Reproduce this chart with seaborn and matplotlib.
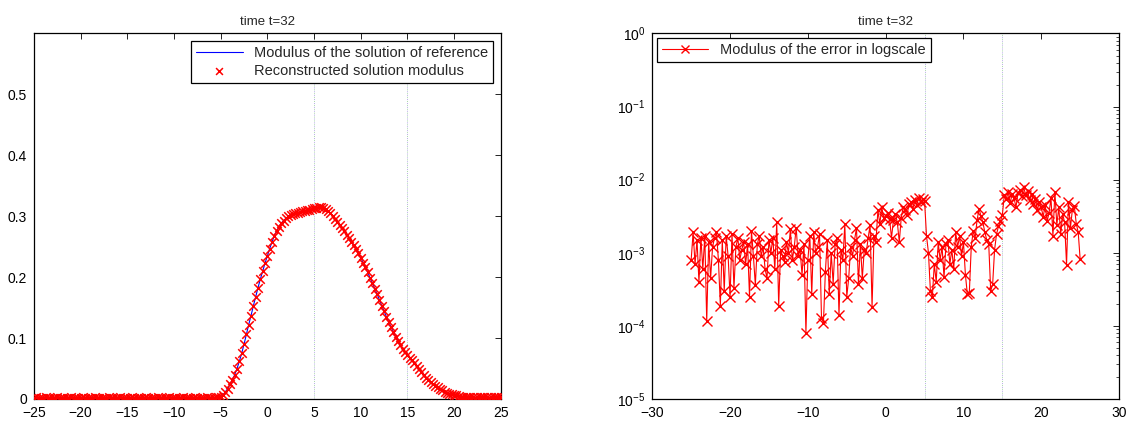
import numpy as np
import pandas as pd
import seaborn as sns
import matplotlib
matplotlib.use("Agg")
import matplotlib.pyplot as plt
from matplotlib.ticker import LogLocator, NullFormatter

# grid used by the solver (step 0.25 on [-25, 25])
x_grid = np.arange(-25, 25.001, 0.25)

# modulus of the solution
sol_mod = [
    0.002, 0.003, 0.002, 0.001, 0.002, 0.003, 0.002, 0.002, 0.001, 0.002,
    0.003, 0.002, 0.002, 0.001, 0.002, 0.002, 0.003, 0.002, 0.001, 0.002,
    0.002, 0.003, 0.002, 0.002, 0.001, 0.002, 0.003, 0.002, 0.002, 0.001,
    0.002, 0.002, 0.003, 0.002, 0.001, 0.002, 0.002, 0.003, 0.002, 0.002,
    0.001, 0.002, 0.003, 0.002, 0.002, 0.001, 0.002, 0.002, 0.003, 0.002,
    0.001, 0.002, 0.002, 0.003, 0.002, 0.002, 0.001, 0.002, 0.003, 0.002,
    0.002, 0.001, 0.002, 0.002, 0.003, 0.002, 0.001, 0.002, 0.002, 0.003,
    0.002, 0.002, 0.001, 0.002, 0.003, 0.002, 0.002, 0.002, 0.003, 0.003,
    0.004, 0.007, 0.012, 0.017, 0.024, 0.031, 0.040, 0.050, 0.062, 0.075,
    0.090, 0.106, 0.122, 0.137, 0.153, 0.168, 0.183, 0.197, 0.210, 0.223,
    0.235, 0.247, 0.258, 0.268, 0.276, 0.283, 0.289, 0.293, 0.297, 0.300,
    0.302, 0.304, 0.305, 0.306, 0.307, 0.308, 0.309, 0.310, 0.311, 0.312,
    0.313, 0.314, 0.315, 0.315, 0.314, 0.312, 0.309, 0.305, 0.301, 0.296,
    0.291, 0.286, 0.281, 0.276, 0.270, 0.264, 0.258, 0.252, 0.246, 0.239,
    0.232, 0.224, 0.216, 0.208, 0.199, 0.190, 0.181, 0.172, 0.163, 0.153,
    0.144, 0.135, 0.126, 0.118, 0.110, 0.102, 0.095, 0.088, 0.082, 0.077,
    0.072, 0.068, 0.064, 0.059, 0.054, 0.049, 0.044, 0.039, 0.035, 0.031,
    0.028, 0.025, 0.022, 0.019, 0.016, 0.014, 0.012, 0.010, 0.009, 0.008,
    0.007, 0.006, 0.005, 0.004, 0.004, 0.003, 0.003, 0.004, 0.003, 0.002,
    0.003, 0.003, 0.004, 0.003, 0.003, 0.002, 0.003, 0.004, 0.003, 0.003,
    0.003,
]

# modulus of the error, in units of 1e-3
err_mod_e3 = [
    0.8, 1.9, 0.7, 1.5, 0.4, 1.6, 0.6, 1.7, 0.115, 1.4,
    0.45, 1.2, 1.6, 1.9, 0.8, 0.19, 1.5, 0.3, 1.7, 0.9,
    0.25,
    1.8, 0.33, 1.2, 1.6, 0.8, 1.1, 1.4, 0.7, 1.3, 0.25,
    2.0, 0.9, 0.36, 1.3, 1.7, 0.9, 1.2, 0.6, 0.45, 1.5,
    1.0, 1.6, 0.6, 2.6, 0.19, 1.1, 0.9, 0.75, 1.4, 1.0,
    2.1, 0.8, 1.2, 2.2, 0.9, 1.1, 0.5, 1.3, 0.08, 0.8,
    1.7, 0.27, 1.9, 1.0, 1.2, 1.8, 0.13, 0.11, 0.55, 1.5,
    0.27, 1.0, 0.38, 1.3, 1.6, 0.14, 1.1, 0.8, 2.5, 0.25,
    0.45, 1.2, 0.9, 1.5, 2.2, 0.38, 1.3, 0.45, 1.1, 1.0,
    1.6, 2.4, 0.18, 1.7, 1.4, 3.8, 2.5, 4.2, 3.0, 3.2,
    3.5, 2.9, 1.6, 2.8, 3.4, 2.6, 1.4, 3.0, 4.2, 3.8,
    3.3, 4.6, 4.9, 4.0, 5.2, 4.5, 5.7, 5.0, 5.4, 5.1,
    1.7, 1.0, 0.3, 0.25, 0.7, 0.4, 1.4, 0.8, 1.2, 0.46,
    1.3, 1.5, 0.7, 1.1, 0.6, 1.9, 1.2, 1.7, 0.9, 1.4,
    0.5, 0.27, 0.28, 1.2, 2.0, 1.6, 2.8, 4.0, 3.2, 2.6,
    1.9, 1.5, 1.3, 0.3, 0.37, 1.1, 1.8, 2.3, 2.7, 3.3,
    6.2, 5.4, 6.8, 4.8, 6.3, 5.6, 4.2, 6.5, 7.2, 5.9,
    7.9, 6.1, 7.0, 5.2, 6.4, 4.6, 5.5, 3.8, 5.0, 4.2,
    3.1, 4.5, 2.7, 3.5, 5.6, 1.7, 6.8, 2.4, 4.2, 1.8,
    3.4, 2.6, 0.69, 5.0, 2.2, 3.9, 4.3, 2.5, 1.9, 0.81,
]

marks_x = [5, 15]
left_xticks = [-25, -20, -15, -10, -5, 0, 5, 10, 15, 20, 25]
left_yticks = [0, 0.1, 0.2, 0.3, 0.4, 0.5]
left_ylabels = ["0", "0.1", "0.2", "0.3", "0.4", "0.5"]
right_xticks = [-30, -20, -10, 0, 10, 20, 30]

df = pd.DataFrame({"x": x_grid, "sol": sol_mod,
                   "err": np.array(err_mod_e3) * 1e-3})

sns.set_theme(style="white")
plt.rcParams["font.family"] = ["Liberation Sans", "DejaVu Sans"]
plt.rcParams["axes.unicode_minus"] = True

fig = plt.figure(figsize=(11.33, 4.24), dpi=100)
ax1 = fig.add_axes([0.0300, 0.059, 0.412, 0.862])
ax2 = fig.add_axes([0.5757, 0.059, 0.412, 0.862])


def matlab_box(ax):
    for s in ax.spines.values():
        s.set_color("black")
        s.set_linewidth(0.9)
    ax.tick_params(which="both", direction="in", top=True, right=True,
                   colors="black", labelsize=10)
    ax.tick_params(axis="x", pad=5)
    ax.tick_params(axis="y", pad=5)
    ax.tick_params(which="major", length=4, width=0.6)
    ax.tick_params(which="minor", length=2, width=0.5)


def faint_marks(ax):
    for xv in marks_x:
        ax.axvline(xv, color="#b8a8e8", lw=0.7, ls=(0, (1, 3)), zorder=0)
        ax.axvline(xv, color="#a8d8a8", lw=0.7, ls=(2, (1, 3)), zorder=0)


# left panel
faint_marks(ax1)
sns.lineplot(data=df, x="x", y="sol", ax=ax1, color="blue", lw=0.8,
             sort=False, estimator=None,
             label="Modulus of the solution of reference")
sns.scatterplot(data=df, x="x", y="sol", ax=ax1, color="red", marker="x",
                s=38, linewidth=1.1, label="Reconstructed solution modulus",
                zorder=3)
ax1.set_xlim(-25, 25)
ax1.set_ylim(0, 0.6)
ax1.set_xticks(left_xticks)
ax1.set_yticks(left_yticks)
ax1.set_yticklabels(left_ylabels)
ax1.set_xlabel("")
ax1.set_ylabel("")
ax1.set_title("time t=32", fontsize=9.5, pad=6)
matlab_box(ax1)
leg1 = ax1.legend(loc="upper right", fontsize=10.5, fancybox=False,
                  edgecolor="black", framealpha=1, borderaxespad=0.5,
                  handlelength=3.2, borderpad=0.35, labelspacing=0.25,
                  markerscale=0.8)
leg1.get_frame().set_linewidth(0.9)

# right panel
faint_marks(ax2)
sns.lineplot(data=df, x="x", y="err", ax=ax2, color="red", lw=0.8,
             marker="x", markersize=6.5, markeredgewidth=1.0,
             markeredgecolor="red", sort=False, estimator=None,
             label="Modulus of the error in logscale")
ax2.set_yscale("log")
ax2.set_xlim(-30, 30)
ax2.set_ylim(1e-5, 1)
ax2.set_xticks(right_xticks)
ax2.yaxis.set_major_locator(LogLocator(base=10, numticks=10))
ax2.yaxis.set_minor_locator(LogLocator(base=10, subs=np.arange(2, 10), numticks=20))
ax2.yaxis.set_minor_formatter(NullFormatter())
ax2.set_xlabel("")
ax2.set_ylabel("")
ax2.set_title("time t=32", fontsize=9.5, pad=6)
matlab_box(ax2)
leg2 = ax2.legend(loc="upper left", fontsize=10.5, fancybox=False,
                  edgecolor="black", framealpha=1, borderaxespad=0.3,
                  handlelength=3.2, borderpad=0.35, markerscale=0.8)
leg2.get_frame().set_linewidth(0.9)

fig.savefig("out.png", dpi=100)
